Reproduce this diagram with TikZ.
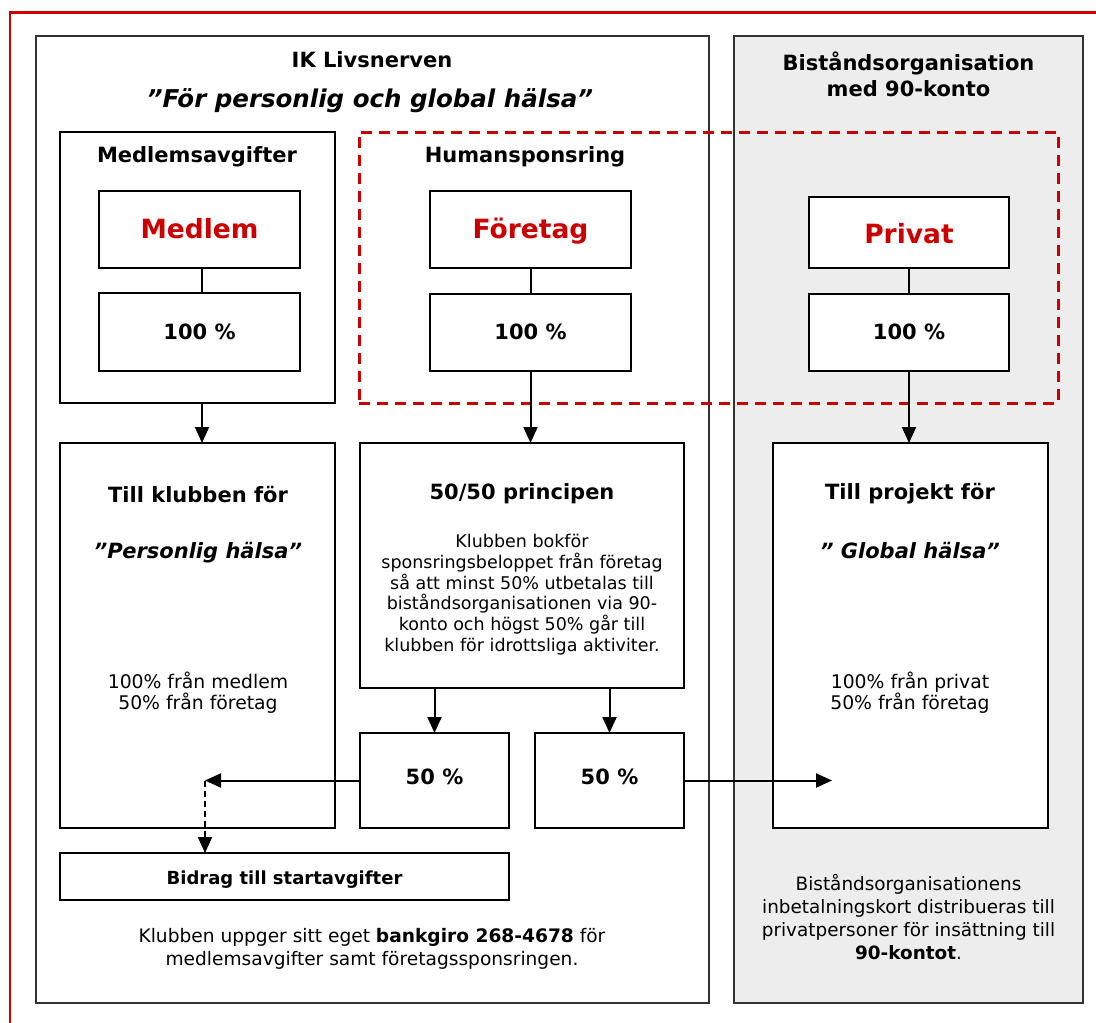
\documentclass[tikz,border=0pt]{standalone}
\usepackage{fontspec}
\setmainfont{DejaVu Sans}
\usetikzlibrary{arrows.meta,fit}
\definecolor{redc}{RGB}{204,0,0}
\definecolor{panelgray}{RGB}{237,237,237}
\definecolor{edgec}{RGB}{50,50,50}
\begin{document}
\begin{tikzpicture}[x=1pt,y=-1pt,
  panel/.style={draw=edgec, line width=1.4pt, inner sep=0pt, outer sep=0pt},
  box/.style={draw=black, line width=2.4pt, fill=white, inner sep=0pt, outer sep=0pt},
  hd/.style={font=\fontsize{21}{25.7}\selectfont\bfseries, align=center, inner sep=0pt},
  hdit/.style={font=\fontsize{21}{25}\selectfont\bfseries\itshape, inner sep=0pt},
  redt/.style={font=\fontsize{26.5}{30}\selectfont\bfseries, text=redc, inner sep=0pt, anchor=base},
  pct/.style={font=\fontsize{21}{25}\selectfont\bfseries, inner sep=0pt, anchor=base},
  body/.style={font=\fontsize{18.8}{21}\selectfont, align=center, inner sep=0pt},
  arr/.style={line width=2pt, -{Triangle[length=16pt,width=14pt]}},
  conn/.style={line width=2pt}
]
\useasboundingbox (0,0) rectangle (1096,1023);

% red outer frame
\draw[redc, line width=2.8pt] (10,1040) -- (10,12.5) -- (1110,12.5);

% panels
\node[panel, fit={(36,36) (709,1003)}] (ik) {};
\node[panel, fill=panelgray, fit={(734,36) (1083,1003)}] (bi) {};

% dashed red region
\node[draw=redc, line width=3pt, dash pattern=on 11pt off 7pt, inner sep=0pt,
      fit={(359,132) (1058,403)}] (dashreg) {};

% titles
\node[hd] (t1) at (372,60) {IK Livsnerven};
\node[font=\fontsize{24.5}{28}\selectfont\bfseries\itshape, inner sep=0pt] (t2) at (370,101) {”För personlig och global hälsa”};
\node[hd] (t3) at (908.5,74.5) {Biståndsorganisation\\med 90-konto};

% boxes
\node[box, fit={(60,132) (335,403)}] (medavg) {};
\node[hd] (medavgt) at (197,157) {Medlemsavgifter};
\node[hd] (humant) at (525,157) {Humansponsring};

\node[box, fit={(99,191) (300,268)}] (medlem) {};
\node[box, fit={(99,293) (300,371)}] (med100) {};
\node[box, fit={(430,191) (631,268)}] (foretag) {};
\node[box, fit={(430,294) (631,371)}] (for100) {};
\node[box, fit={(809,197) (1009,268)}] (privat) {};
\node[box, fit={(809,294) (1009,371)}] (priv100) {};

\node[redt] (medlemt) at (199.5,238.3) {Medlem};
\node[redt] (foretagt) at (530.5,238.3) {Företag};
\node[redt] (privatt) at (909,243.7) {Privat};
\node[pct] (med100t) at (199.5,339) {100 \%};
\node[pct] (for100t) at (530.5,339) {100 \%};
\node[pct] (priv100t) at (909,339) {100 \%};

\node[box, fit={(60,443) (335,828)}] (klubb) {};
\node[box, fit={(360,443) (684,688)}] (princip) {};
\node[box, fit={(773,443) (1048,828)}] (projekt) {};
\node[box, fit={(360,733) (509,828)}] (p50a) {};
\node[box, fit={(535,733) (684,828)}] (p50b) {};
\node[box, fit={(60,853) (509,900)}] (bidrag) {};
\node[pct] (p50at) at (434.5,784.3) {50 \%};
\node[pct] (p50bt) at (609.5,784.3) {50 \%};
\node[font=\fontsize{18}{21}\selectfont\bfseries, inner sep=0pt, anchor=base] (bidragt) at (284.5,884.5) {Bidrag till startavgifter};

% texts in klubb
\node[hd] (k1) at (198,495) {Till klubben för};
\node[hdit] (k2) at (198,553) {”Personlig hälsa”};
\node[body] (k3) at (198,692.5) {100\% från medlem\\50\% från företag};

% texts in princip
\node[font=\fontsize{21}{25}\selectfont\bfseries, inner sep=0pt] (pr1) at (522,494) {50/50 principen};
\node[font=\fontsize{17.5}{20.8}\selectfont, align=center, inner sep=0pt] (pr2) at (522,594.6)
  {Klubben bokför\\sponsringsbeloppet från företag\\så att minst 50\% utbetalas till\\biståndsorganisationen via 90-\\konto och högst 50\% går till\\klubben för idrottsliga aktiviter.};

% texts in projekt
\node[hd] (pj1) at (910,494) {Till projekt för};
\node[hdit] (pj2) at (910,551) {” Global hälsa”};
\node[body] (pj3) at (910,692.5) {100\% från privat\\50\% från företag};

% bottom texts
\node[body, font=\fontsize{18.6}{22.3}\selectfont] (bl) at (372,949) {Klubben uppger sitt eget \textbf{bankgiro 268-4678} för\\medlemsavgifter samt företagssponsringen.};
\node[body, font=\fontsize{18.4}{23}\selectfont] (br) at (908.5,916.8) {Biståndsorganisationens\\inbetalningskort distribueras till\\privatpersoner för insättning till\\\textbf{90-kontot}.};

% connectors
\coordinate (la) at (205,780.5);
\coordinate (ra) at (832,780.5);
\draw[conn] (medlem.south -| 202,0) -- (med100.north -| 202,0);
\draw[conn] (foretag) -- (for100);
\draw[conn] (privat) -- (priv100);
\draw[arr] (medavg.south -| 202,0) -- (klubb.north -| 202,0);
\draw[arr] (for100.south) -- (princip.north -| for100);
\draw[arr] (priv100.south) -- (projekt.north -| priv100);
\draw[arr] (princip.south -| p50a) -- (p50a.north);
\draw[arr] (princip.south -| p50b) -- (p50b.north);
\draw[arr] (p50a.west) -- (la);
\draw[arr, dash pattern=on 6pt off 4pt] (la) -- (bidrag.north -| la);
\draw[arr] (p50b.east) -- (ra);
\end{tikzpicture}
\end{document}
